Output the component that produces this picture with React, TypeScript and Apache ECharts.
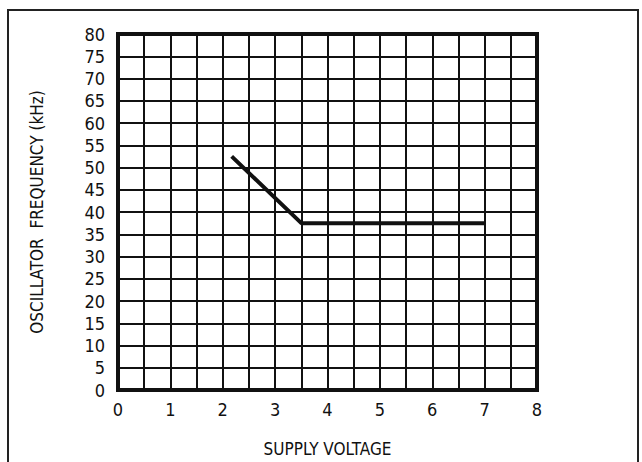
import React, { useEffect, useRef } from "react";
import * as echarts from "echarts";

const xTicks = [0, 1, 2, 3, 4, 5, 6, 7, 8];
const yTicks = [0, 5, 10, 15, 20, 25, 30, 35, 40, 45, 50, 55, 60, 65, 70, 75, 80];
const supplyVoltage = [2.17, 3.5, 7.0];
const frequencyKHz = [52.5, 37.5, 37.5];
const xTitle = "SUPPLY VOLTAGE";
const yTitle = "OSCILLATOR  FREQUENCY (kHz)";

const FONT = "'DejaVu Sans Condensed', 'Liberation Sans Narrow', sans-serif";

export default function App() {
  const ref = useRef<HTMLDivElement>(null);
  useEffect(() => {
    if (!ref.current) return;
    const chart = echarts.init(ref.current, null, { renderer: "svg" });
    const data = supplyVoltage.map((v, i) => [v, frequencyKHz[i]]);
    chart.setOption({
      animation: false,
      backgroundColor: "#ffffff",
      graphic: [
        {
          type: "rect",
          shape: { x: 8, y: 10, width: 630, height: 470 },
          style: { fill: "none", stroke: "#222", lineWidth: 2 },
          z: 100,
        },
      ],
      grid: {
        left: 118,
        right: 105,
        top: 34,
        bottom: 65,
        show: true,
        borderColor: "#111",
        borderWidth: 4,
        backgroundColor: "#fff",
      },
      xAxis: {
        type: "value",
        min: 0,
        max: 8,
        interval: 0.5,
        name: xTitle,
        nameLocation: "middle",
        nameGap: 50,
        nameTextStyle: { fontFamily: FONT, fontSize: 17, color: "#111" },
        axisLine: { show: false },
        axisTick: { show: false },
        axisLabel: {
          margin: 10,
          fontFamily: FONT,
          fontSize: 18,
          color: "#111",
          formatter: (v: number) => (xTicks.includes(v) ? String(v) : ""),
        },
        splitLine: { show: true, lineStyle: { color: "#111", width: 2 } },
      },
      yAxis: {
        type: "value",
        min: 0,
        max: 80,
        interval: 5,
        name: yTitle,
        nameLocation: "middle",
        nameGap: 73,
        nameRotate: 90,
        nameTextStyle: { fontFamily: FONT, fontSize: 17, color: "#111" },
        axisLine: { show: false },
        axisTick: { show: false },
        axisLabel: {
          margin: 13,
          fontFamily: FONT,
          fontSize: 18,
          color: "#111",
          formatter: (v: number) => (yTicks.includes(v) ? String(v) : ""),
        },
        splitLine: { show: true, lineStyle: { color: "#111", width: 2 } },
      },
      series: [
        {
          type: "line",
          data,
          symbol: "none",
          lineStyle: { color: "#111", width: 4 },
          z: 10,
        },
      ],
    });
    return () => chart.dispose();
  }, []);
  return <div ref={ref} style={{ width: 642, height: 462, position: "absolute", left: 0, top: 0 }} />;
}
